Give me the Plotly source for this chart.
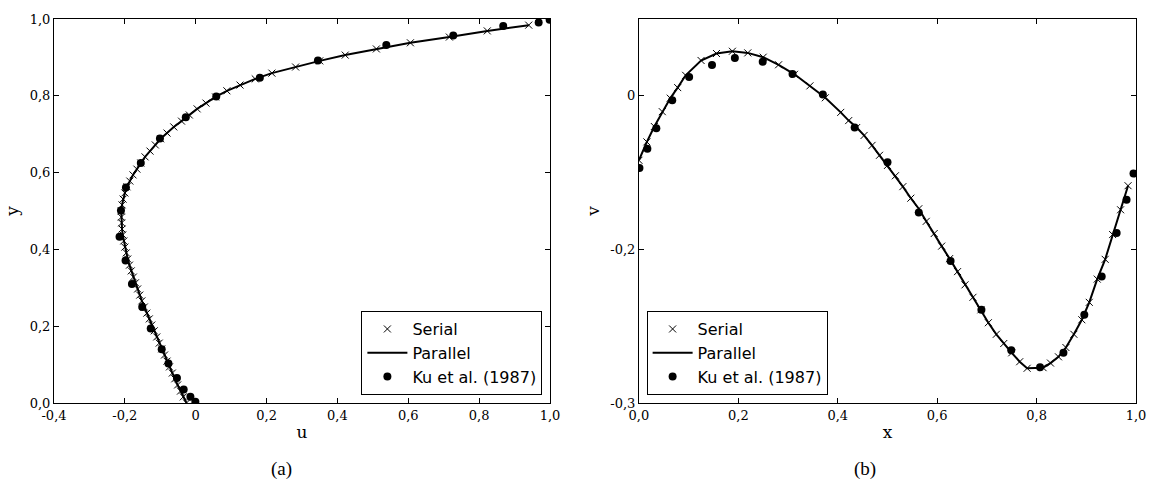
import plotly.graph_objects as go

# ---------------- Panel (a): u along vertical centreline ----------------
a_y = [0.000, 0.016, 0.031, 0.047, 0.063, 0.078, 0.094, 0.109, 0.125, 0.141,
       0.156, 0.172, 0.188, 0.203, 0.219, 0.234, 0.250, 0.266, 0.281, 0.297,
       0.313, 0.328, 0.344, 0.359, 0.375, 0.391, 0.406, 0.422, 0.438, 0.453,
       0.469, 0.484, 0.500, 0.516, 0.531, 0.547, 0.563, 0.578, 0.594, 0.609,
       0.625, 0.641, 0.656, 0.672, 0.688, 0.703, 0.719, 0.734, 0.750, 0.766,
       0.781, 0.797, 0.813, 0.828, 0.844, 0.859, 0.875, 0.891, 0.906, 0.922,
       0.938, 0.953, 0.969, 0.984]
a_u = [-0.026, -0.035, -0.043, -0.051, -0.059, -0.066, -0.074, -0.081, -0.088, -0.096,
       -0.103, -0.110, -0.117, -0.124, -0.131, -0.138, -0.145, -0.152, -0.158, -0.164,
       -0.170, -0.176, -0.182, -0.187, -0.192, -0.196, -0.200, -0.203, -0.206, -0.208,
       -0.209, -0.210, -0.210, -0.208, -0.205, -0.200, -0.194, -0.186, -0.177, -0.166,
       -0.155, -0.143, -0.129, -0.114, -0.099, -0.081, -0.062, -0.040, -0.018, 0.004,
       0.029, 0.056, 0.088, 0.125, 0.168, 0.215, 0.282, 0.350, 0.422, 0.510,
       0.606, 0.716, 0.823, 0.940]
ku_a_u = [-0.001, -0.015, -0.034, -0.053, -0.077, -0.096, -0.127, -0.151, -0.180, -0.198,
          -0.215, -0.211, -0.197, -0.155, -0.101, -0.028, 0.058, 0.181, 0.345, 0.538,
          0.727, 0.868, 0.968, 0.999]
ku_a_y = [0.003, 0.016, 0.035, 0.065, 0.103, 0.140, 0.194, 0.250, 0.310, 0.371,
          0.433, 0.501, 0.561, 0.625, 0.689, 0.744, 0.798, 0.847, 0.892, 0.932,
          0.957, 0.982, 0.991, 0.998]

# ---------------- Panel (b): v along horizontal centreline ----------------
b_x = [0.000, 0.016, 0.031, 0.047, 0.063, 0.078, 0.094, 0.125, 0.156, 0.188,
       0.219, 0.250, 0.281, 0.313, 0.344, 0.375, 0.406, 0.422, 0.438, 0.453,
       0.469, 0.484, 0.500, 0.516, 0.531, 0.547, 0.563, 0.578, 0.594, 0.609,
       0.625, 0.641, 0.656, 0.672, 0.688, 0.703, 0.719, 0.734, 0.750, 0.766,
       0.781, 0.813, 0.828, 0.844, 0.859, 0.875, 0.891, 0.906, 0.922, 0.938,
       0.953, 0.969, 0.984]
b_v = [-0.063, -0.045, -0.030, -0.0155, -0.0023, 0.008, 0.020, 0.0345, 0.0413, 0.0435,
       0.0419, 0.0377, 0.0303, 0.0210, 0.0097, -0.0019, -0.0162, -0.0242, -0.031, -0.0387,
       -0.0484, -0.0581, -0.068, -0.0781, -0.0887, -0.1000, -0.1103, -0.1226, -0.1345, -0.1468,
       -0.159, -0.1717, -0.1846, -0.1968, -0.2090, -0.2216, -0.2329, -0.2419, -0.2510, -0.2597,
       -0.2661, -0.2655, -0.261, -0.2549, -0.2458, -0.2329, -0.2187, -0.2017, -0.1790, -0.1597,
       -0.1355, -0.1113, -0.0878]
ku_b_x = [0.001, 0.017, 0.035, 0.067, 0.101, 0.147, 0.193, 0.249, 0.309, 0.370,
          0.434, 0.500, 0.563, 0.627, 0.689, 0.749, 0.807, 0.854, 0.896, 0.931,
          0.961, 0.981, 0.995]
ku_b_v = [-0.0704, -0.0517, -0.0316, -0.0043, 0.0184, 0.0300, 0.0368, 0.0332, 0.0213, 0.0013,
          -0.0310, -0.0648, -0.1139, -0.1613, -0.2090, -0.2484, -0.2652, -0.2510, -0.2139, -0.1765,
          -0.1339, -0.1016, -0.0759]

# tick definitions
a_xticks = [-0.4, -0.2, 0.0, 0.2, 0.4, 0.6, 0.8, 1.0]
a_xlabels = ["-0,4", "-0,2", "0", "0,2", "0,4", "0,6", "0,8", "1,0"]
a_yticks = [0.0, 0.2, 0.4, 0.6, 0.8, 1.0]
a_ylabels = ["0,0", "0,2", "0,4", "0,6", "0,8", "1,0"]
b_xticks = [0.0, 0.2, 0.4, 0.6, 0.8, 1.0]
b_xlabels = ["0,0", "0,2", "0,4", "0,6", "0,8", "1,0"]
b_yticks = [-0.3, -0.15, 0.0]
b_ylabels = ["-0,3", "-0,2", "0"]
captions = ["(a)", "(b)"]

SERIF = "DejaVu Serif"
SANS = "DejaVu Sans"

fig = go.Figure()

def add_panel(xs, ys, kx, ky, xa, ya, leg):
    fig.add_trace(go.Scatter(x=xs, y=ys, mode="markers", name="Serial",
                             marker=dict(symbol="x-thin", size=7, color="black",
                                         line=dict(width=1, color="black")),
                             xaxis=xa, yaxis=ya, legend=leg))
    fig.add_trace(go.Scatter(x=xs, y=ys, mode="lines", name="Parallel",
                             line=dict(color="black", width=2),
                             xaxis=xa, yaxis=ya, legend=leg))
    fig.add_trace(go.Scatter(x=kx, y=ky, mode="markers", name="Ku et al. (1987)",
                             marker=dict(symbol="circle", size=8, color="black"),
                             xaxis=xa, yaxis=ya, legend=leg))

add_panel(a_u, a_y, ku_a_u, ku_a_y, "x", "y", "legend")
add_panel(b_x, b_v, ku_b_x, ku_b_v, "x2", "y2", "legend2")

axis_common = dict(showgrid=False, zeroline=False, showline=True, linecolor="black",
                   linewidth=1, mirror="ticks", ticks="inside", ticklen=5,
                   tickcolor="black", tickwidth=1,
                   tickfont=dict(family=SERIF, size=13, color="black"))
title_font = dict(family=SERIF, size=17, color="black")

W, H = 1158, 482
ML, MR, MT, MB = 53, 15, 16, 79
PW = W - ML - MR
PH = H - MT - MB

legend_common = dict(yanchor="bottom", y=8 / PH, bgcolor="white", bordercolor="black",
                     borderwidth=1, itemwidth=40, tracegroupgap=0,
                     font=dict(family=SANS, size=16, color="black"))

fig.update_layout(
    width=W, height=H,
    margin=dict(l=ML, r=MR, t=MT, b=MB),
    paper_bgcolor="white", plot_bgcolor="white",
    xaxis=dict(domain=[0, 0.4584], range=[-0.4, 1.0], tickvals=a_xticks, ticktext=a_xlabels,
               title=dict(text="u", font=title_font, standoff=4),
               anchor="y", **axis_common),
    yaxis=dict(domain=[0, 1], range=[0, 1], tickvals=a_yticks, ticktext=a_ylabels,
               title=dict(text="y", font=title_font, standoff=6),
               anchor="x", **axis_common),
    xaxis2=dict(domain=[0.5406, 1], range=[0, 1], tickvals=b_xticks, ticktext=b_xlabels,
                title=dict(text="x", font=title_font, standoff=4),
                anchor="y2", **axis_common),
    yaxis2=dict(domain=[0, 1], range=[-0.3, 0.075], tickvals=b_yticks, ticktext=b_ylabels,
                title=dict(text="v", font=title_font, standoff=6),
                anchor="x2", **axis_common),
    legend=dict(x=(545 - ML) / PW, xanchor="right", **legend_common),
    legend2=dict(x=(650 - ML) / PW, xanchor="left", **legend_common),
    showlegend=True,
)

for txt, px in zip(captions, (282, 870)):
    fig.add_annotation(text=txt, x=(px - ML) / PW, y=(403 - 470) / PH, xref="paper", yref="paper",
                       showarrow=False, xanchor="center", yanchor="middle",
                       font=dict(family="Liberation Serif", size=19, color="black"))

fig.write_html("out.html", config={"displayModeBar": False},
               post_script="document.body.style.margin='0px';document.body.style.overflow='hidden';")
